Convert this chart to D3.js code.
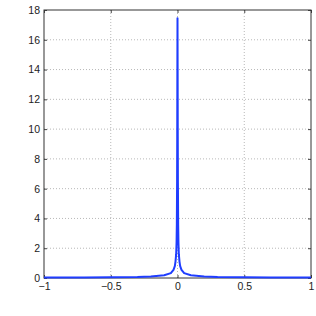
<!DOCTYPE html>
<html lang="en">
<head>
  <meta charset="UTF-8">
  <title>Peak</title>
  <style>
    body { margin: 0; padding: 0; background: white; }
    svg text { font-family: "Liberation Sans", Arial, sans-serif; font-size: 10.5px; fill: #222; }
  </style>
</head>
<body>
<svg width="316" height="316"></svg>
<script src="https://d3js.org/d3.v7.min.js"></script>
<script>
// values
const xs = [-1, -0.7, -0.5, -0.3, -0.2, -0.1, -0.05, -0.03, -0.02, -0.015, -0.01, -0.007, -0.005, -0.003, -0.002, -0.001, 0,
            0.001, 0.002, 0.003, 0.005, 0.007, 0.01, 0.015, 0.02, 0.03, 0.05, 0.1, 0.2, 0.3, 0.5, 0.7, 1];
const ys = [0.03, 0.04, 0.05, 0.07, 0.1, 0.18, 0.33, 0.55, 0.8, 1.1, 1.6, 2.4, 3.6, 6.5, 9.5, 14, 17.45,
            14, 9.5, 6.5, 3.6, 2.4, 1.6, 1.1, 0.8, 0.55, 0.33, 0.18, 0.1, 0.07, 0.05, 0.04, 0.03];
const xTicks = [-1, -0.5, 0, 0.5, 1];
const yTicks = [0, 2, 4, 6, 8, 10, 12, 14, 16, 18];

const margin = {top: 10, right: 5, bottom: 38, left: 44};
const width = 316 - margin.left - margin.right;
const height = 316 - margin.top - margin.bottom;

const svg = d3.select("svg");
const g = svg.append("g").attr("transform", "translate(" + margin.left + "," + margin.top + ")");

const x = d3.scaleLinear().domain([-1, 1]).range([0, width]);
const y = d3.scaleLinear().domain([0, 18]).range([height, 0]);

// grid
g.append("g").selectAll("line")
  .data(xTicks.slice(1, -1))
  .join("line")
  .attr("x1", d => x(d)).attr("x2", d => x(d))
  .attr("y1", 0).attr("y2", height)
  .attr("stroke", "#b8b8b8").attr("stroke-width", 1)
  .attr("stroke-dasharray", "1,2");

g.append("g").selectAll("line")
  .data(yTicks.slice(1, -1))
  .join("line")
  .attr("x1", 0).attr("x2", width)
  .attr("y1", d => y(d)).attr("y2", d => y(d))
  .attr("stroke", "#b8b8b8").attr("stroke-width", 1)
  .attr("stroke-dasharray", "1,2");

// axes
const xAxis = g.append("g")
  .attr("transform", "translate(0," + height + ")")
  .call(d3.axisBottom(x).tickValues(xTicks).tickSizeInner(-3).tickSizeOuter(0).tickPadding(5)
    .tickFormat(d => d3.format("")(d).replace("-", "\u2212")));
xAxis.select(".domain").remove();

const yAxis = g.append("g")
  .call(d3.axisLeft(y).tickValues(yTicks).tickSizeInner(-3).tickSizeOuter(0).tickPadding(4));
yAxis.select(".domain").remove();

// right and top ticks
g.append("g").attr("transform", "translate(" + width + ",0)")
  .call(d3.axisRight(y).tickValues(yTicks).tickSizeInner(-3).tickSizeOuter(0).tickFormat(""))
  .select(".domain").remove();
g.append("g")
  .call(d3.axisTop(x).tickValues(xTicks).tickSizeInner(-3).tickSizeOuter(0).tickFormat(""))
  .select(".domain").remove();

g.selectAll(".tick line").attr("stroke", "#444");
g.selectAll(".tick text").attr("fill", "#222");

// frame
g.append("rect")
  .attr("width", width).attr("height", height)
  .attr("fill", "none").attr("stroke", "#333").attr("stroke-width", 1);

// curve
const line = d3.line()
  .x((d, i) => x(xs[i]))
  .y(d => y(d));

g.append("path")
  .datum(ys)
  .attr("fill", "none")
  .attr("stroke", "#1f3dff")
  .attr("stroke-width", 2)
  .attr("stroke-linejoin", "round")
  .attr("d", line);
</script>
</body>
</html>
